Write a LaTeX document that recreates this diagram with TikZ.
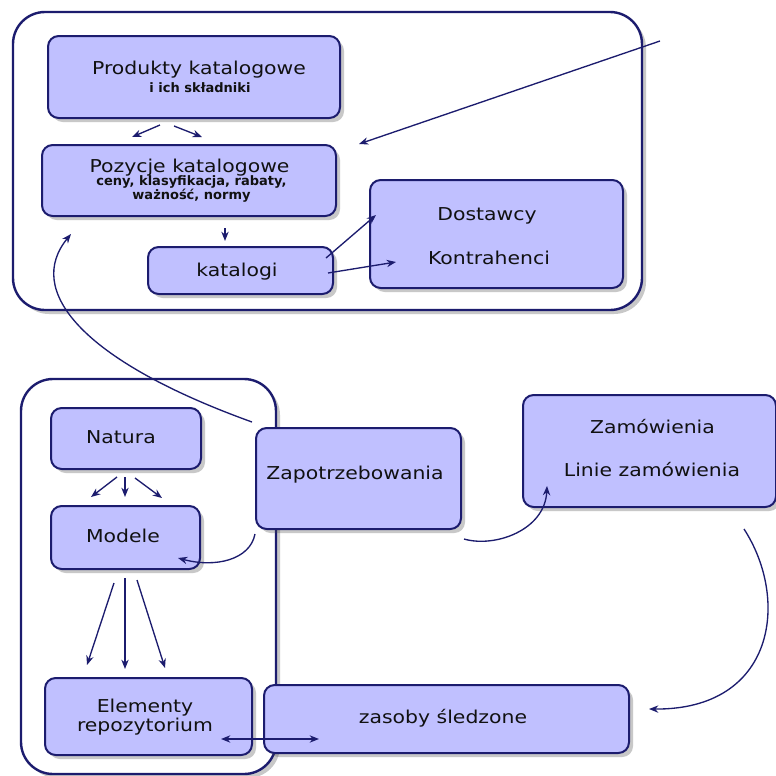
\documentclass[tikz,border=0pt]{standalone}
\usepackage{fontspec}
\usetikzlibrary{arrows.meta,calc,shadows}
\newfontfamily\dvw[FakeStretch=1.15]{DejaVu Sans}
\newfontfamily\dvn{DejaVu Sans}
\definecolor{boxfill}{RGB}{192,192,255}
\definecolor{navy}{RGB}{28,28,110}
\definecolor{txtcol}{RGB}{17,17,17}
\tikzset{
  shad/.style={drop shadow={shadow xshift=3pt,shadow yshift=-3pt,opacity=.3,fill=black!70}},
  grp/.style={draw=navy,line width=1.8pt,fill=white,rounded corners=24pt,inner sep=0pt,shad},
  box/.style={draw=navy,line width=1.5pt,fill=boxfill,rounded corners=8pt,inner sep=0pt,shad},
  big/.style={text=txtcol,inner sep=0pt,anchor=base,font=\dvw\fontsize{13.3pt}{15pt}\selectfont},
  small/.style={text=txtcol,inner sep=0pt,anchor=base,font=\dvn\bfseries\fontsize{9.75pt}{11pt}\selectfont},
  arr/.style={draw=navy,line width=1pt,-{Stealth[length=7pt,width=5.5pt]}},
  darr/.style={draw=navy,line width=1pt,{Stealth[length=7pt,width=5.5pt]}-{Stealth[length=7pt,width=5.5pt]}}
}
\begin{document}
\begin{tikzpicture}[x=0.75pt,y=-0.75pt]
\useasboundingbox[fill=white] (0,0) rectangle (776,776);
% containers
\node[grp,minimum width=471.75pt,minimum height=223.5pt] (topgrp) at (327.5,161) {};
\node[grp,minimum width=191.25pt,minimum height=296.25pt] (botgrp) at (148.5,576.5) {};
% boxes
\node[box,minimum width=219pt,minimum height=61.5pt] (prod) at (194,77) {};
\node[box,minimum width=220.5pt,minimum height=53.25pt] (poz) at (189,180.5) {};
\node[box,minimum width=138.75pt,minimum height=35.25pt] (kat) at (240.5,270.5) {};
\node[box,minimum width=189.75pt,minimum height=81pt] (dost) at (496.5,234) {};
\node[box,minimum width=112.5pt,minimum height=45.75pt] (nat) at (126,438.5) {};
\node[box,minimum width=111.75pt,minimum height=47.25pt] (mod) at (125.5,537.5) {};
\node[box,minimum width=155.25pt,minimum height=57.75pt] (elem) at (148.5,716.5) {};
\node[box,minimum width=153.75pt,minimum height=75.75pt] (zap) at (358.5,478.5) {};
\node[box,minimum width=189.75pt,minimum height=84pt] (zam) at (649.5,451) {};
\node[box,minimum width=273.75pt,minimum height=51pt] (zas) at (446.5,719) {};
% texts
\node[big] (prodA) at (199,74) {Produkty katalogowe};
\node[small] (prodB) at (200,92) {i ich składniki};
\node[big] (pozA) at (189.5,172) {Pozycje katalogowe};
\node[small] (pozB) at (191.5,185) {ceny, klasyfikacja, rabaty,};
\node[small] (pozC) at (191.5,199) {ważność, normy};
\node[big] (katA) at (237,276) {katalogi};
\node[big] (dostA) at (487,220) {Dostawcy};
\node[big] (dostB) at (489,264) {Kontrahenci};
\node[big] (natA) at (121,443) {Natura};
\node[big] (modA) at (123,542) {Modele};
\node[big] (elemA) at (145,712) {Elementy};
\node[big] (elemB) at (145,731) {repozytorium};
\node[big] (zapA) at (355,479) {Zapotrzebowania};
\node[big] (zamA) at (652.5,433) {Zamówienia};
\node[big] (zamB) at (652,476) {Linie zamówienia};
\node[big] (zasA) at (443,723) {zasoby śledzone};
% straight connectors
\draw[arr] ($(prod.south)+(-34,6)$) -- ($(poz.north)+(-57,-7)$);
\draw[arr] ($(prod.south)+(-20,7)$) -- ($(poz.north)+(13,-7)$);
\draw[arr] ($(poz.south)+(36,11)$) -- ($(kat.north)+(-15.5,-5)$);
\draw[arr] ($(kat.east)+(-8,-12.5)$) -- ($(dost.west)+(7,-19)$);
\draw[arr] ($(kat.east)+(-6,2.5)$) -- ($(dost.west)+(27,28)$);
\coordinate (ext) at (660,41);
\draw[arr] (ext) -- ($(poz.north east)+(22,0)$);
\draw[arr] ($(nat.south)+(-9,7)$) -- ($(mod.north)+(-34.5,-8)$);
\draw[arr] ($(nat.south)+(-1,7)$) -- ($(mod.north)+(-0.5,-8)$);
\draw[arr] ($(nat.south)+(9,8)$) -- ($(mod.north)+(36.5,-7)$);
\draw[arr] ($(mod.south)+(-11.5,13)$) -- ($(elem.north)+(-61.5,-12)$);
\draw[arr] ($(mod.south)+(-0.5,8)$) -- ($(elem.north)+(-23.5,-8)$);
\draw[arr] ($(mod.south)+(11.5,10)$) -- ($(elem.north)+(16.5,-9)$);
\draw[darr] ($(elem.east)+(-32,22.5)$) -- ($(zas.west)+(56,20)$);
% curved connectors
\draw[arr] ($(zap.north west)+(-3,-5)$) .. controls (80,360) and (25,290) .. ($(poz.south west)+(30,17)$);
\draw[arr] ($(zap.south west)+(0,4)$) .. controls (250,560) and (215,568) .. ($(mod.south east)+(-23,-12)$);
\draw[arr] ($(zap.south east)+(2,9)$) .. controls (495,548) and (545,530) .. ($(zam.south west)+(25,-22)$);
\draw[arr] ($(zam.south east)+(-33,21)$) .. controls (790,600) and (775,710) .. ($(zas.east)+(19,-10)$);
\end{tikzpicture}
\end{document}
